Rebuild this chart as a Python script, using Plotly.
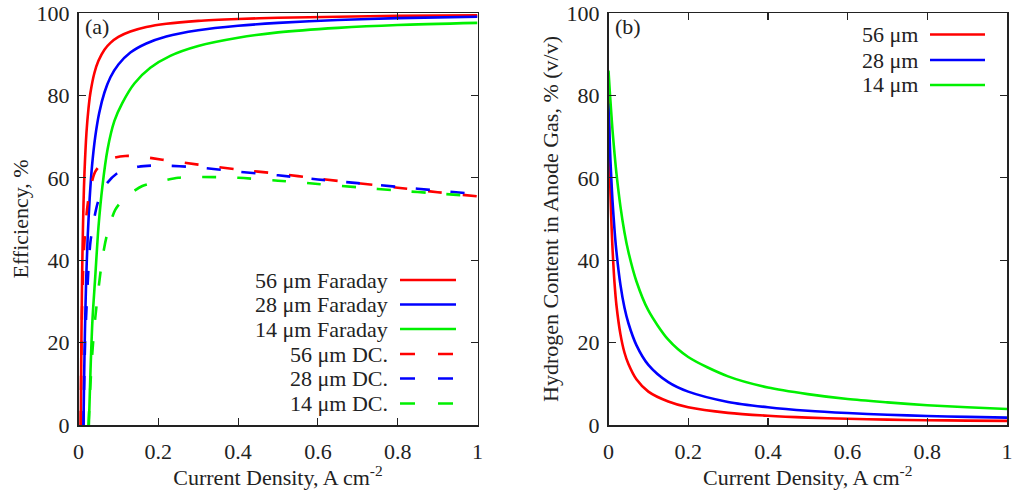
import plotly.graph_objects as go

# ---------------- data ----------------
# Panel (a): Faraday efficiency (solid) and DC efficiency (dashed), %
x_far_56 = [0.0058, 0.007, 0.0085, 0.01, 0.0125, 0.015, 0.02, 0.025, 0.03, 0.04, 0.05, 0.065, 0.08, 0.1, 0.13, 0.17, 0.22, 0.3, 0.4, 0.5, 0.65, 0.8, 1.0]
y_far_56 = [0, 17, 32, 42, 53.6, 61.3, 71, 76.8, 80.7, 85.5, 88.4, 91.1, 92.75, 94.2, 95.5, 96.6, 97.4, 98.1, 98.55, 98.84, 99.1, 99.3, 99.45]

x_far_28 = [0.0125, 0.014, 0.016, 0.019, 0.023, 0.028, 0.034, 0.042, 0.052, 0.065, 0.08, 0.1, 0.13, 0.17, 0.22, 0.3, 0.4, 0.5, 0.65, 0.8, 1.0]
y_far_28 = [0, 11, 22, 34.5, 45.5, 55, 63, 70, 75.8, 80.7, 84.4, 87.5, 90.4, 92.6, 94.3, 95.8, 96.9, 97.6, 98.3, 98.75, 99.1]

x_far_14 = [0.026, 0.03, 0.035, 0.042, 0.05, 0.06, 0.073, 0.09, 0.11, 0.14, 0.18, 0.23, 0.3, 0.4, 0.5, 0.65, 0.8, 1.0]
y_far_14 = [0, 13, 25.5, 36, 48, 58, 67, 73.8, 78.2, 82.9, 86.7, 89.6, 92, 94, 95.3, 96.4, 97.1, 97.6]

x_dc_56 = [0.0055, 0.0085, 0.013, 0.019, 0.025, 0.033, 0.042, 0.063, 0.09, 0.117, 0.15, 0.21, 0.3, 0.4, 0.5, 0.6, 0.7, 0.8, 0.9, 1.0]
y_dc_56 = [0, 26, 41, 50, 55, 58.8, 61.5, 63.9, 64.9, 65.3, 65.2, 64.4, 63.2, 62.0, 61.0, 59.8, 58.7, 57.6, 56.5, 55.5]

x_dc_28 = [0.0125, 0.016, 0.019, 0.025, 0.03, 0.04, 0.05, 0.07, 0.1, 0.15, 0.2, 0.3, 0.4, 0.5, 0.6, 0.7, 0.8, 0.9, 1.0]
y_dc_28 = [0, 18, 26, 38, 44.5, 50.5, 54.5, 58.5, 61.3, 62.7, 63.0, 62.5, 61.5, 60.6, 59.6, 58.7, 57.8, 56.9, 56.0]

x_dc_14 = [0.025, 0.03, 0.035, 0.042, 0.05, 0.06, 0.071, 0.092, 0.115, 0.16, 0.19, 0.25, 0.3, 0.4, 0.5, 0.6, 0.7, 0.8, 0.9, 1.0]
y_dc_14 = [0, 10, 18, 26, 33, 40.5, 46, 52.2, 55.0, 58.0, 58.8, 60.0, 60.2, 60.0, 59.3, 58.5, 57.7, 56.9, 56.2, 55.5]

# Panel (b): hydrogen content in anode gas, % (v/v)
x_h2 = [0, 0.0025, 0.005, 0.0075, 0.01, 0.015, 0.02, 0.03, 0.04, 0.05, 0.07, 0.1, 0.15, 0.2, 0.3, 0.4, 0.5, 0.6, 0.7, 0.8, 0.9, 1.0]
y_h2_56 = [80, 66.5, 56, 48.6, 43, 34.6, 29, 22, 17.6, 14.8, 11.1, 8.1, 5.7, 4.3, 2.95, 2.25, 1.8, 1.5, 1.3, 1.17, 1.07, 1.0]
y_h2_28 = [78, 70.5, 64, 59, 54.5, 47.5, 42, 34, 28.5, 24.7, 19.4, 14.6, 10.4, 8.1, 5.6, 4.3, 3.45, 2.9, 2.5, 2.2, 1.97, 1.8]
y_h2_14 = [86, 82, 78.5, 75, 71.6, 66, 61, 53, 46.8, 42, 34.9, 27.8, 20.7, 16.5, 11.8, 9.1, 7.5, 6.3, 5.5, 4.8, 4.3, 3.9]

x_ticks = [0, 0.2, 0.4, 0.6, 0.8, 1]
x_ticktext = ["0", "0.2", "0.4", "0.6", "0.8", "1"]
y_ticks = [0, 20, 40, 60, 80, 100]

labels_a = ["56 \u03bcm Faraday", "28 \u03bcm Faraday", "14 \u03bcm Faraday",
            "56 \u03bcm DC.", "28 \u03bcm DC.", "14 \u03bcm DC."]
labels_b = ["56 \u03bcm", "28 \u03bcm", "14 \u03bcm"]

# ---------------- styling ----------------
RED, BLUE, GREEN = "#ff0000", "#0000ff", "#00f000"
FONT = "Liberation Serif"
TXT = "#222222"
FS = 22
LW = 2.6
DASH = "14px,21px"

fig = go.Figure()

def add(x, y, color, dash, xa, ya):
    fig.add_trace(go.Scatter(x=x, y=y, mode="lines", xaxis=xa, yaxis=ya, cliponaxis=True,
                             line=dict(color=color, width=LW, dash=dash, shape="spline", smoothing=0.8),
                             showlegend=False, hoverinfo="skip"))

add(x_far_56, y_far_56, RED, "solid", "x", "y")
add(x_far_28, y_far_28, BLUE, "solid", "x", "y")
add(x_far_14, y_far_14, GREEN, "solid", "x", "y")
add(x_dc_56, y_dc_56, RED, DASH, "x", "y")
add(x_dc_28, y_dc_28, BLUE, DASH, "x", "y")
add(x_dc_14, y_dc_14, GREEN, DASH, "x", "y")

add(x_h2, y_h2_56, RED, "solid", "x2", "y2")
add(x_h2, y_h2_28, BLUE, "solid", "x2", "y2")
add(x_h2, y_h2_14, GREEN, "solid", "x2", "y2")

# the page body margin is removed (post_script below), so the figure fills the window
W, H = 1012, 490
def px_x(p): return p / W
def px_y(p): return 1 - p / H

axis_common = dict(showline=True, linecolor=TXT, linewidth=1.5, mirror="ticks",
                   ticks="inside", ticklen=7, tickwidth=1.2, tickcolor=TXT,
                   showgrid=False, zeroline=False, automargin=False,
                   ticklabeloverflow="allow",
                   tickfont=dict(family=FONT, size=FS, color=TXT))

def xtitle():
    return dict(text="Current Density, A cm<sup>-2</sup>", font=dict(family=FONT, size=FS, color=TXT), standoff=5)

fig.update_layout(
    width=W, height=H, margin=dict(l=0, r=0, t=0, b=0, autoexpand=False),
    paper_bgcolor="white", plot_bgcolor="white",
    xaxis=dict(domain=[px_x(78.5), px_x(477.5)], range=[0, 1], anchor="y",
               tickvals=x_ticks, ticktext=x_ticktext, ticklabelstandoff=6, title=xtitle(), **axis_common),
    yaxis=dict(domain=[px_y(425), px_y(13)], range=[0, 100], anchor="x",
               tickvals=y_ticks, ticklabelstandoff=3,
               title=dict(text="Efficiency, %", font=dict(family=FONT, size=FS, color=TXT), standoff=2),
               **axis_common),
    xaxis2=dict(domain=[px_x(608.5), px_x(1007)], range=[0, 1], anchor="y2",
                tickvals=x_ticks, ticktext=x_ticktext, ticklabelstandoff=6, title=xtitle(), **axis_common),
    yaxis2=dict(domain=[px_y(425), px_y(13)], range=[0, 100], anchor="x2",
                tickvals=y_ticks, ticklabelstandoff=3,
                title=dict(text="Hydrogen Content in Anode Gas, % (v/v)", font=dict(family=FONT, size=FS, color=TXT), standoff=2),
                **axis_common),
)

annotations = []
shapes = []

# panel labels
annotations.append(dict(text="(a)", x=px_x(83), y=px_y(27), xref="paper", yref="paper",
                        xanchor="left", yanchor="middle", showarrow=False,
                        font=dict(family=FONT, size=FS, color=TXT)))
annotations.append(dict(text="(b)", x=px_x(613), y=px_y(27), xref="paper", yref="paper",
                        xanchor="left", yanchor="middle", showarrow=False,
                        font=dict(family=FONT, size=FS, color=TXT)))

# legend (a)
colors_a = [RED, BLUE, GREEN, RED, BLUE, GREEN]
dashes_a = ["solid"] * 3 + ["15px,23px"] * 3
rows_a = [280, 304.5, 329, 354, 378.5, 403.5]
for lab, c, d, yy in zip(labels_a, colors_a, dashes_a, rows_a):
    annotations.append(dict(text=lab, x=px_x(390), y=px_y(yy), xref="paper", yref="paper",
                            xanchor="right", yanchor="middle", showarrow=False,
                            font=dict(family=FONT, size=FS, color=TXT)))
    shapes.append(dict(type="line", xref="paper", yref="paper",
                       x0=px_x(400), x1=px_x(456), y0=px_y(yy), y1=px_y(yy),
                       line=dict(color=c, width=LW, dash=d)))

# legend (b)
colors_b = [RED, BLUE, GREEN]
rows_b = [34.5, 60, 85]
for lab, c, yy in zip(labels_b, colors_b, rows_b):
    annotations.append(dict(text=lab, x=px_x(920), y=px_y(yy), xref="paper", yref="paper",
                            xanchor="right", yanchor="middle", showarrow=False,
                            font=dict(family=FONT, size=FS, color=TXT)))
    shapes.append(dict(type="line", xref="paper", yref="paper",
                       x0=px_x(930), x1=px_x(985), y0=px_y(yy), y1=px_y(yy),
                       line=dict(color=c, width=LW)))

fig.update_layout(annotations=annotations, shapes=shapes)

fig.write_html("out.html",
               config={"displayModeBar": False, "staticPlot": True},
               post_script="document.body.style.margin='0';document.body.style.overflow='hidden';")
